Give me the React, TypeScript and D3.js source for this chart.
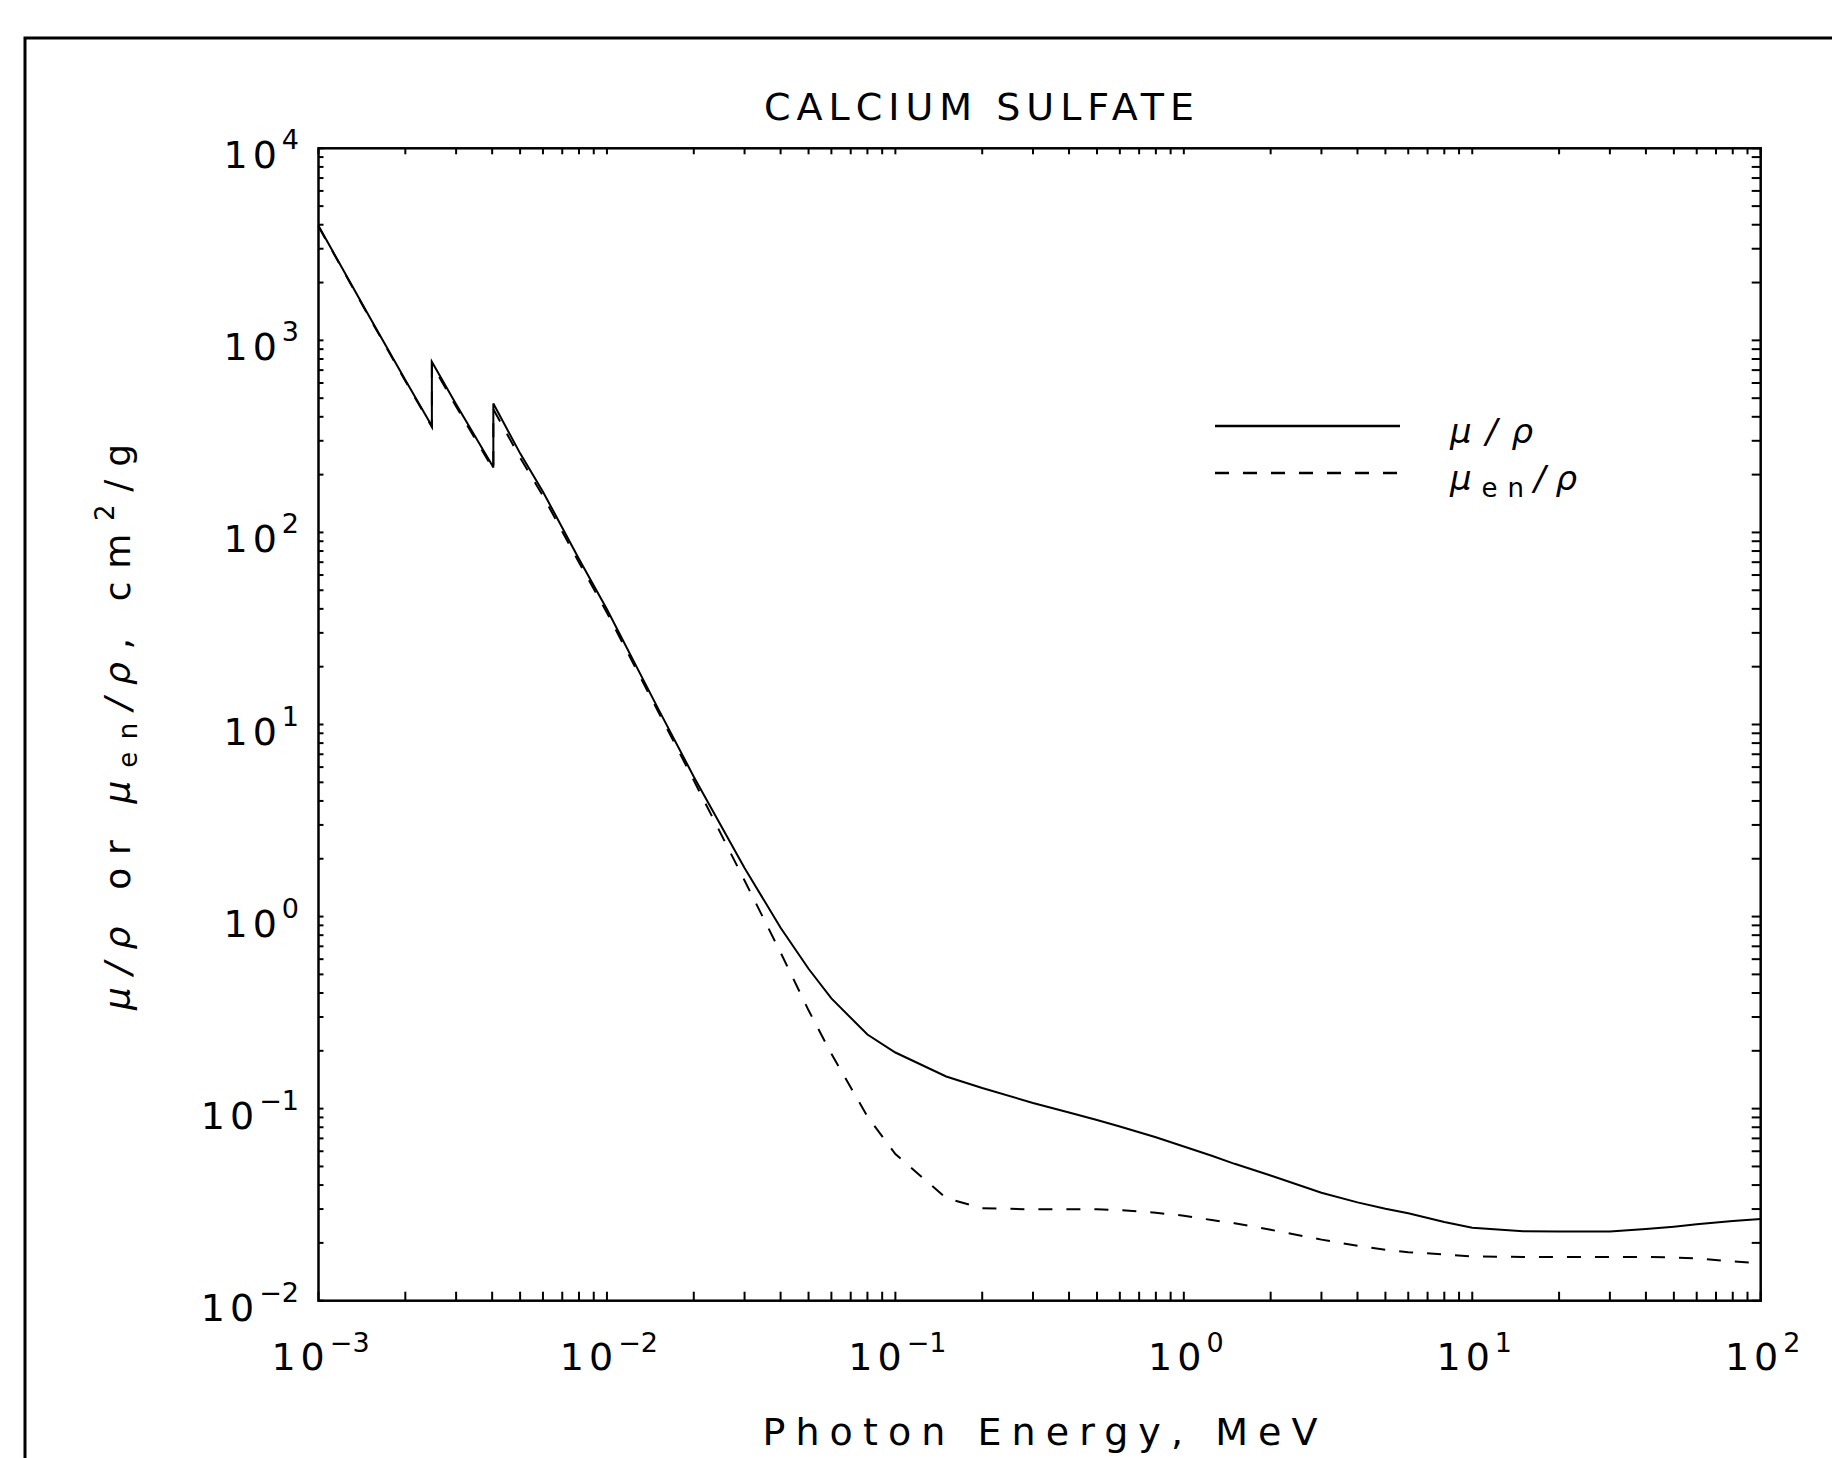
import React from "react";
import * as d3 from "d3";

// photon energy grid, MeV (edges repeated: S K 2.472 keV, Ca K 4.038 keV)
const energy = [
  1e-3, 1.5e-3, 2e-3, 2.472e-3, 2.472e-3, 3e-3, 4e-3, 4.038e-3, 4.038e-3, 5e-3,
  6e-3, 8e-3, 1e-2, 1.5e-2, 2e-2, 3e-2, 4e-2, 5e-2, 6e-2, 8e-2,
  0.1, 0.15, 0.2, 0.3, 0.4, 0.5, 0.6, 0.8, 1, 1.25,
  1.5, 2, 3, 4, 5, 6, 8, 10, 15, 20,
  30, 40, 50, 60, 80, 100,
];

// mu/rho, cm2/g
const muRho = [
  3950, 1330, 622, 358, 773, 465, 224, 218, 469, 258,
  163, 72.8, 39.8, 12.2, 5.35, 1.79, 0.875, 0.535, 0.375, 0.243,
  0.196, 0.147, 0.128, 0.107, 0.0955, 0.0873, 0.0807, 0.0709, 0.0635, 0.0568,
  0.0516, 0.0449, 0.0365, 0.0325, 0.0301, 0.0285, 0.0257, 0.024, 0.023, 0.0229,
  0.0229, 0.0236, 0.0243, 0.025, 0.026, 0.0266,
];

// mu_en/rho, cm2/g
const muEnRho = [
  3920, 1318, 615, 354, 752, 452, 218, 212, 438, 245,
  155, 69.8, 38.2, 11.8, 5.12, 1.54, 0.65, 0.325, 0.193, 0.091,
  0.058, 0.0342, 0.0303, 0.0299, 0.0299, 0.0299, 0.0296, 0.0287, 0.0277, 0.0263,
  0.0253, 0.0234, 0.0208, 0.0193, 0.0184, 0.0179, 0.0174, 0.017, 0.0169, 0.0169,
  0.0169, 0.0169, 0.0168, 0.0166, 0.016, 0.0157,
];

const xExponents = ["−3", "−2", "−1", "0", "1", "2"];
const yExponents = ["−2", "−1", "0", "1", "2", "3", "4"];
const chartTitle = "CALCIUM SULFATE";
const xTitle = "Photon Energy, MeV";

const W = 1832;
const H = 1458;
const plot = { left: 318.5, right: 1760.7, top: 148.3, bottom: 1300.7 };
const font = "'DejaVu Sans', sans-serif";

const App = () => {
  const x = d3.scaleLog().domain([1e-3, 1e2]).range([plot.left, plot.right]);
  const y = d3.scaleLog().domain([1e-2, 1e4]).range([plot.bottom, plot.top]);

  const line = d3
    .line<number>()
    .x((_, i) => x(energy[i]))
    .y((d) => y(d));

  const xTicks = x.ticks();
  const yTicks = y.ticks();

  return (
    <svg
      width={W}
      height={H}
      style={{ position: "absolute", left: 0, top: 0, background: "#fff" }}
      fontFamily={font}
    >
      <rect x={0} y={0} width={W} height={H} fill="#fff" />
      {/* outer frame, runs off the page right and bottom */}
      <rect x={25} y={38} width={2000} height={2000} fill="none" stroke="#000" strokeWidth={3} />

      <text x={979} y={120} fontSize={38} textAnchor="middle" textLength={430} lengthAdjust="spacing">
        {chartTitle}
      </text>

      {/* ticks */}
      <g stroke="#000" strokeWidth={2}>
        {xTicks.map((t, i) => (
          <g key={"xt" + i}>
            <line x1={x(t)} x2={x(t)} y1={plot.bottom} y2={plot.bottom - 9} />
            <line x1={x(t)} x2={x(t)} y1={plot.top} y2={plot.top + 6} />
          </g>
        ))}
        {yTicks.map((t, i) => (
          <g key={"yt" + i}>
            <line x1={plot.left} x2={plot.left + 5} y1={y(t)} y2={y(t)} />
            <line x1={plot.right} x2={plot.right - 9} y1={y(t)} y2={y(t)} />
          </g>
        ))}
      </g>

      <rect
        x={plot.left}
        y={plot.top}
        width={plot.right - plot.left}
        height={plot.bottom - plot.top}
        fill="none"
        stroke="#000"
        strokeWidth={2.5}
      />

      {/* tick labels */}
      {xExponents.map((e, i) => (
        <text key={"xl" + i} x={x(Math.pow(10, i - 3)) + 2} y={1370} fontSize={38} textAnchor="middle">
          <tspan letterSpacing={5}>10</tspan>
          <tspan fontSize={27} dy={-18}>{e}</tspan>
        </text>
      ))}
      {yExponents.map((e, i) => (
        <text key={"yl" + i} x={299} y={y(Math.pow(10, i - 2)) + 20} fontSize={38} textAnchor="end">
          <tspan letterSpacing={5}>10</tspan>
          <tspan fontSize={27} dy={-19}>{e}</tspan>
        </text>
      ))}

      {/* curves */}
      <path d={line(muRho) || ""} fill="none" stroke="#000" strokeWidth={2} />
      <path d={line(muEnRho) || ""} fill="none" stroke="#000" strokeWidth={2} strokeDasharray="14 14" />

      {/* legend */}
      <line x1={1215} x2={1400} y1={426} y2={426} stroke="#000" strokeWidth={2.5} />
      <line x1={1215} x2={1400} y1={473} y2={473} stroke="#000" strokeWidth={2.5} strokeDasharray="14 14" />
      <text x={1450} y={443} fontSize={34} fontStyle="italic" textLength={83} lengthAdjust="spacing">
        μ/ρ
      </text>
      <text x={1450} y={490} fontSize={34} fontStyle="italic" textLength={127} lengthAdjust="spacing">
        μ
        <tspan fontSize={26} fontStyle="normal" dy={7}>en</tspan>
        <tspan dy={-7}>/ρ</tspan>
      </text>

      {/* axis titles */}
      <text x={1040} y={1445} fontSize={38} textAnchor="middle" textLength={555} lengthAdjust="spacing">
        {xTitle}
      </text>
      <text
        transform="translate(130,727) rotate(-90)"
        fontSize={36}
        textAnchor="middle"
        textLength={566}
        lengthAdjust="spacing"
      >
        <tspan fontStyle="italic">μ/ρ</tspan>
        <tspan> or </tspan>
        <tspan fontStyle="italic">μ</tspan>
        <tspan fontSize={26} dy={7}>en</tspan>
        <tspan fontStyle="italic" dy={-7}>/ρ</tspan>
        <tspan>, cm</tspan>
        <tspan fontSize={26} dy={-16}>2</tspan>
        <tspan dy={16}>/g</tspan>
      </text>
    </svg>
  );
};

export default App;
